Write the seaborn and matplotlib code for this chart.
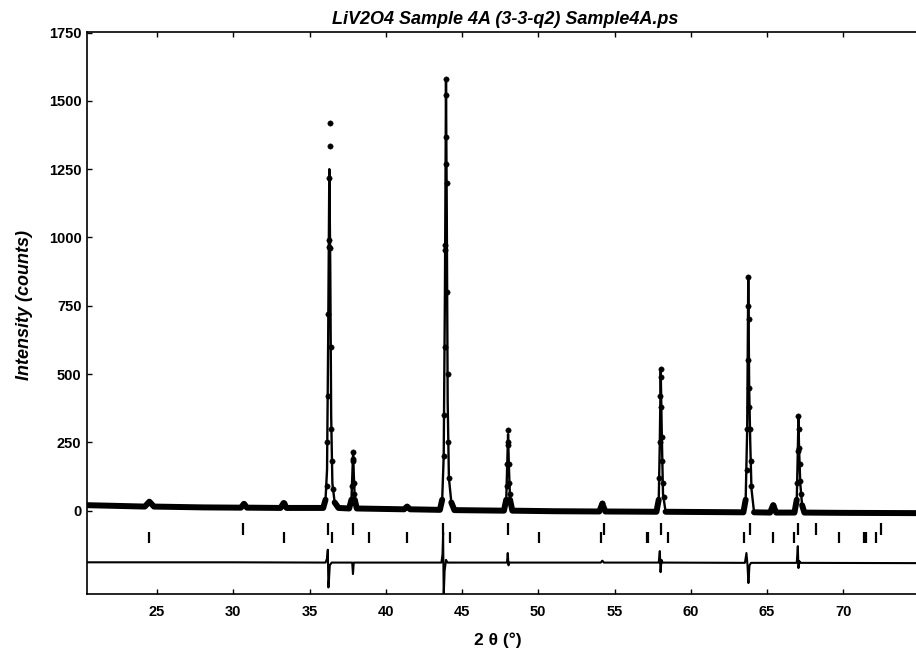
import numpy as np
import pandas as pd
import matplotlib
matplotlib.use("Agg")
import matplotlib.pyplot as plt
import seaborn as sns

# ---------------- data ----------------
# calculated profile nodes (2theta, counts)
calc_x = [20.45, 22.0, 24.2, 24.5, 24.8, 28.0, 30.5, 30.7, 30.9, 33.1, 33.3, 33.5, 35.9,
          36.05, 36.15, 36.22, 36.30, 36.36, 36.42, 36.50, 36.65, 36.90,
          37.60, 37.75, 37.82, 37.86, 37.90, 37.97, 38.10, 41.2, 41.4, 41.6,
          43.55, 43.70, 43.80, 43.88, 43.95, 44.00, 44.06, 44.14, 44.30, 44.50,
          47.75, 47.90, 47.97, 48.02, 48.07, 48.15, 48.30, 51.0, 54.0, 54.2, 54.4,
          57.75, 57.90, 57.97, 58.03, 58.10, 58.18, 58.35, 61.0,
          63.45, 63.60, 63.70, 63.77, 63.83, 63.90, 63.98, 64.15, 65.2, 65.4, 65.6,
          66.80, 66.95, 67.02, 67.06, 67.10, 67.18, 67.30, 67.45, 70.0, 74.9]
calc_y = [20, 18, 15, 33, 15, 12, 11, 25, 11, 10, 28, 10, 10,
          40, 150, 600, 1250, 900, 350, 100, 30, 10,
          8, 40, 150, 215, 140, 40, 8, 5, 15, 5,
          3, 40, 200, 800, 1570, 1100, 400, 120, 30, 2,
          0, 40, 180, 280, 170, 40, 0, -2, -3, 25, -3,
          -4, 40, 250, 510, 280, 60, -4, -5,
          -6, 40, 300, 850, 450, 250, 80, -6, -7, 20, -7,
          -7, 40, 220, 340, 230, 100, 20, -7, -8, -9]

# observed points on the peaks
obs_x = [24.5, 30.7, 33.3,
         36.12, 36.17, 36.20, 36.24, 36.27, 36.29, 36.31, 36.32, 36.34, 36.37, 36.40, 36.43, 36.47, 36.52,
         37.80, 37.83, 37.86, 37.88, 37.92, 37.95, 41.4,
         43.80, 43.83, 43.86, 43.89, 43.90, 43.92, 43.93, 43.95, 43.96, 43.99, 44.02, 44.05, 44.10, 44.15,
         47.93, 47.96, 47.99, 48.02, 48.04, 48.07, 48.10, 48.13, 54.2,
         57.94, 57.97, 58.00, 58.02, 58.04, 58.07, 58.10, 58.13, 58.17, 58.22,
         63.66, 63.70, 63.73, 63.75, 63.77, 63.79, 63.82, 63.85, 63.88, 63.92, 63.97, 65.4,
         66.98, 67.02, 67.05, 67.07, 67.10, 67.13, 67.17, 67.22]
obs_y = [33, 25, 28,
         90, 250, 420, 720, 965, 990, 1217, 1420, 1335, 960, 600, 300, 180, 80,
         90, 180, 215, 190, 100, 60, 15,
         200, 350, 600, 954, 972, 1268, 1367, 1520, 1579, 1200, 800, 500, 250, 120,
         90, 170, 240, 295, 250, 170, 100, 60, 28,
         120, 250, 420, 520, 490, 380, 270, 180, 100, 50,
         150, 300, 550, 750, 855, 700, 450, 380, 300, 180, 90, 20,
         100, 220, 345, 300, 230, 170, 110, 60]

# difference curve (already offset)
diff_x = [20.45, 30.0, 36.05, 36.15, 36.20, 36.24, 36.28, 36.33, 36.45,
          37.80, 37.85, 37.90, 43.65, 43.72, 43.76, 43.80, 43.86, 43.95, 44.05,
          47.95, 48.00, 48.05, 48.10, 54.1, 54.2, 54.3,
          57.90, 57.97, 58.02, 58.08, 58.15,
          63.55, 63.65, 63.72, 63.78, 63.85, 63.95,
          66.95, 67.02, 67.06, 67.12, 67.20, 74.9]
diff_y = [-189, -189, -190, -175, -143, -281, -250, -200, -190,
          -190, -232, -190, -190, -160, -80, -312, -220, -180, -190,
          -190, -155, -200, -190, -190, -183, -190,
          -190, -148, -225, -180, -190,
          -191, -155, -200, -265, -200, -191,
          -191, -130, -210, -185, -191, -192]

# reflection markers
phase1_ticks = [30.66, 36.2, 37.83, 43.78, 48.04, 54.3, 58.05, 63.9, 67.05, 68.2, 72.45]
phase2_ticks = [24.5, 33.3, 36.45, 38.88, 41.37, 44.2, 50.07, 54.1, 57.1, 57.2, 58.5,
                63.5, 65.4, 66.8, 69.7, 71.35, 71.5, 72.15]
phase1_range = (-45, -88)
phase2_range = (-78, -118)

x_ticks = [25, 30, 35, 40, 45, 50, 55, 60, 65, 70]
y_ticks = [0, 250, 500, 750, 1000, 1250, 1500, 1750]

title = "LiV2O4 Sample 4A (3-3-q2) Sample4A.ps"
xlabel = "2 θ (°)"
ylabel = "Intensity (counts)"

# ---------------- plotting ----------------
sns.set_theme(style="white")
plt.rcParams["font.family"] = ["Liberation Sans", "DejaVu Sans"]
plt.rcParams["text.color"] = "black"
plt.rcParams["xtick.color"] = "black"
plt.rcParams["ytick.color"] = "black"

fig = plt.figure(figsize=(9.16, 6.51), dpi=100)
ax = fig.add_axes([87 / 916, 1 - 594 / 651, (918 - 87) / 916, (594 - 32) / 651])

calc = pd.DataFrame({"x": calc_x, "y": calc_y})
band = calc.copy()
band["y"] = band["y"].where(band["y"] < 60)
obs = pd.DataFrame({"x": obs_x, "y": obs_y})
diff = pd.DataFrame({"x": diff_x, "y": diff_y})

ax.plot(band["x"], band["y"], color="black", lw=4.3, solid_capstyle="round", zorder=2)
sns.lineplot(data=calc, x="x", y="y", ax=ax, color="black", lw=1.7,
             estimator=None, sort=False, zorder=3)
sns.scatterplot(data=obs, x="x", y="y", ax=ax, color="black", s=15,
                marker="o", edgecolor="black", linewidth=0.3, zorder=4)
sns.lineplot(data=diff, x="x", y="y", ax=ax, color="black", lw=1.5,
             estimator=None, sort=False, zorder=3)

ax.vlines(phase1_ticks, phase1_range[1], phase1_range[0], color="black", lw=1.6)
ax.vlines(phase2_ticks, phase2_range[1], phase2_range[0], color="black", lw=1.6)

ax.set_xlim(20.41, 74.9)
ax.set_ylim(-305, 1752)
ax.set_xticks(x_ticks)
ax.set_yticks(y_ticks)
ax.set_xlabel("")
ax.set_ylabel("")

for s in ["left", "bottom", "top"]:
    ax.spines[s].set_visible(True)
    ax.spines[s].set_color("black")
    ax.spines[s].set_linewidth(1.2)
ax.spines["right"].set_visible(False)

ax.tick_params(axis="x", which="major", direction="in", length=3.5, width=1,
               top=True, bottom=True, labelsize=10.5, pad=8,
               colors="black", labelcolor="black")
ax.tick_params(axis="y", which="major", direction="in", length=3.5, width=1,
               left=True, right=False, labelsize=10.5, pad=4,
               colors="black", labelcolor="black")
for lab in ax.get_xticklabels() + ax.get_yticklabels():
    lab.set_fontweight("bold")

fig.text(505 / 916, 1 - 20 / 651, title, ha="center", va="center", color="black",
         fontsize=13, fontweight="bold", fontstyle="italic")
fig.text(25 / 916, 1 - 305 / 651, ylabel, ha="center", va="center", rotation=90,
         color="black", fontsize=13, fontweight="bold", fontstyle="italic")
fig.text(498 / 916, 1 - 640 / 651, xlabel, ha="center", va="center", color="black",
         fontsize=12.5, fontweight="bold")

fig.savefig("out.png", dpi=100)
